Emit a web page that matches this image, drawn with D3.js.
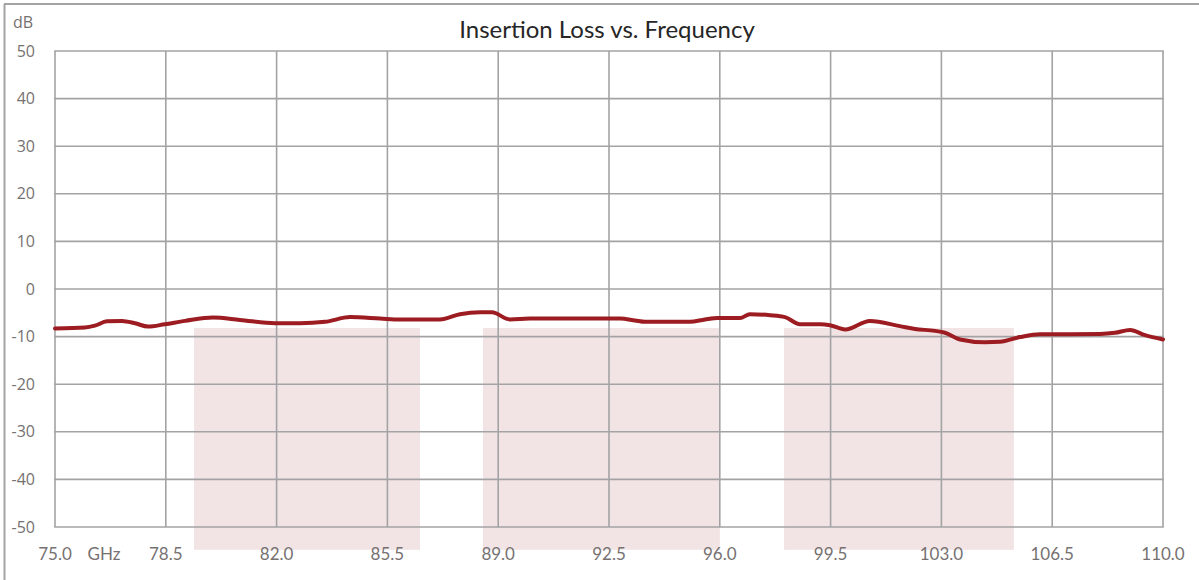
<!DOCTYPE html>
<html>
<head>
<meta charset="utf-8">
<script src="https://cdn.jsdelivr.net/npm/d3@7"></script>
<style>
  body { margin: 0; background: #fff; }
  svg { display: block; }
</style>
</head>
<body>
<div id="chart"></div>
<script>
// insertion loss curve
const freqGHz = [75.00, 75.95, 76.26, 76.64, 77.12, 77.53, 77.94, 78.47, 79.11, 79.99,
  80.84, 81.95, 82.74, 83.53, 84.32, 85.27, 85.90, 87.16, 87.79, 88.43,
  88.80, 89.37, 90.00, 92.85, 93.32, 93.64, 95.06, 95.53, 95.94, 96.64,
  96.95, 97.59, 98.06, 98.53, 99.17, 99.48, 99.96, 100.74, 101.69, 102.17,
  102.80, 103.11, 103.59, 104.38, 104.85, 105.48, 106.11, 107.06, 108.01, 108.48,
  108.96, 109.43, 110.00];
const lossDb = [-8.3, -8.1, -7.7, -6.8, -6.7, -7.2, -7.9, -7.4, -6.7, -6.0,
  -6.5, -7.2, -7.2, -6.9, -5.9, -6.2, -6.4, -6.4, -5.3, -4.9,
  -4.9, -6.4, -6.2, -6.2, -6.6, -6.9, -6.9, -6.4, -6.1, -6.1,
  -5.3, -5.5, -5.9, -7.4, -7.4, -7.6, -8.5, -6.7, -7.8, -8.4,
  -8.8, -9.2, -10.6, -11.2, -11.1, -10.1, -9.5, -9.5, -9.45, -9.2,
  -8.6, -9.7, -10.6];

// shaded bands (GHz start/end, dB top/bottom)
const bandStart = [79.39, 88.52, 98.03];
const bandEnd = [86.53, 96.0, 105.29];
const bandTop = -8.2;
const bandBottom = -54.8;

const xTicks = [75.0, 78.5, 82.0, 85.5, 89.0, 92.5, 96.0, 99.5, 103.0, 106.5, 110.0];
const yTicks = [50, 40, 30, 20, 10, 0, -10, -20, -30, -40, -50];

const W = 1199, H = 580;
const margin = { left: 55, top: 51, right: 1199 - 1163, bottom: 580 - 527 };

const svg = d3.select('#chart').append('svg')
  .attr('width', W)
  .attr('height', H);

const x = d3.scaleLinear().domain([75, 110]).range([margin.left, W - margin.right]);
const y = d3.scaleLinear().domain([-50, 50]).range([H - margin.bottom, margin.top]);

const gridColor = '#a3a3a5';
const labelColor = '#767171';

// outer frame (top + left only)
svg.append('line')
  .attr('x1', 4).attr('x2', W).attr('y1', 4).attr('y2', 4)
  .attr('stroke', gridColor).attr('stroke-width', 2);
svg.append('line')
  .attr('x1', 4.5).attr('x2', 4.5).attr('y1', 4).attr('y2', H)
  .attr('stroke', gridColor).attr('stroke-width', 2);

// bands
const bands = bandStart.map((s, i) => ({ s, e: bandEnd[i] }));
svg.append('g').attr('class', 'bands')
  .selectAll('rect')
  .data(bands)
  .enter().append('rect')
  .attr('x', (d) => x(d.s))
  .attr('width', (d) => x(d.e) - x(d.s))
  .attr('y', y(bandTop))
  .attr('height', y(bandBottom) - y(bandTop))
  .attr('fill', '#f2e4e4');

// grid
const grid = svg.append('g').attr('class', 'grid');
grid.selectAll('line.v')
  .data(xTicks)
  .enter().append('line')
  .attr('class', 'v')
  .attr('x1', (d) => x(d)).attr('x2', (d) => x(d))
  .attr('y1', y(50)).attr('y2', y(-50))
  .attr('stroke', gridColor).attr('stroke-width', 1.6);
grid.selectAll('line.h')
  .data(yTicks)
  .enter().append('line')
  .attr('class', 'h')
  .attr('x1', x(75) - 0.8).attr('x2', x(110) + 0.8)
  .attr('y1', (d) => y(d)).attr('y2', (d) => y(d))
  .attr('stroke', gridColor).attr('stroke-width', 1.6);

// y labels
svg.append('g')
  .selectAll('text')
  .data(yTicks)
  .enter().append('text')
  .attr('x', 35)
  .attr('y', (d) => y(d))
  .attr('dy', '0.35em')
  .attr('text-anchor', 'end')
  .attr('font-family', '"Open Sans", sans-serif')
  .attr('font-size', '16px')
  .attr('fill', labelColor)
  .text((d) => d);

svg.append('text')
  .attr('x', 13).attr('y', 22)
  .attr('dy', '0.35em')
  .attr('font-family', '"Open Sans", sans-serif')
  .attr('font-size', '16px')
  .attr('fill', labelColor)
  .text('dB');

// x labels
svg.append('g')
  .selectAll('text')
  .data(xTicks)
  .enter().append('text')
  .attr('x', (d) => x(d))
  .attr('y', 554)
  .attr('dy', '0.35em')
  .attr('text-anchor', 'middle')
  .attr('font-family', 'Lato, "Open Sans", sans-serif')
  .attr('font-size', '17px')
  .attr('fill', labelColor)
  .text((d) => d.toFixed(1));

svg.append('text')
  .attr('x', 104).attr('y', 554)
  .attr('dy', '0.35em')
  .attr('text-anchor', 'middle')
  .attr('font-family', 'Lato, "Open Sans", sans-serif')
  .attr('font-size', '17px')
  .attr('fill', labelColor)
  .text('GHz');

// title
svg.append('text')
  .attr('x', 607).attr('y', 30)
  .attr('dy', '0.35em')
  .attr('text-anchor', 'middle')
  .attr('font-family', 'Lato, "Open Sans", sans-serif')
  .attr('font-size', '24px')
  .attr('fill', '#262626')
  .text('Insertion Loss vs. Frequency');

// curve
const pts = freqGHz.map((f, i) => ({ f, v: lossDb[i] }));
const line = d3.line()
  .x((d) => x(d.f))
  .y((d) => y(d.v))
  .curve(d3.curveMonotoneX);

svg.append('path')
  .datum(pts)
  .attr('d', line)
  .attr('fill', 'none')
  .attr('stroke', '#9c1c21')
  .attr('stroke-width', 4)
  .attr('stroke-linejoin', 'round')
  .attr('stroke-linecap', 'round');
</script>
</body>
</html>
